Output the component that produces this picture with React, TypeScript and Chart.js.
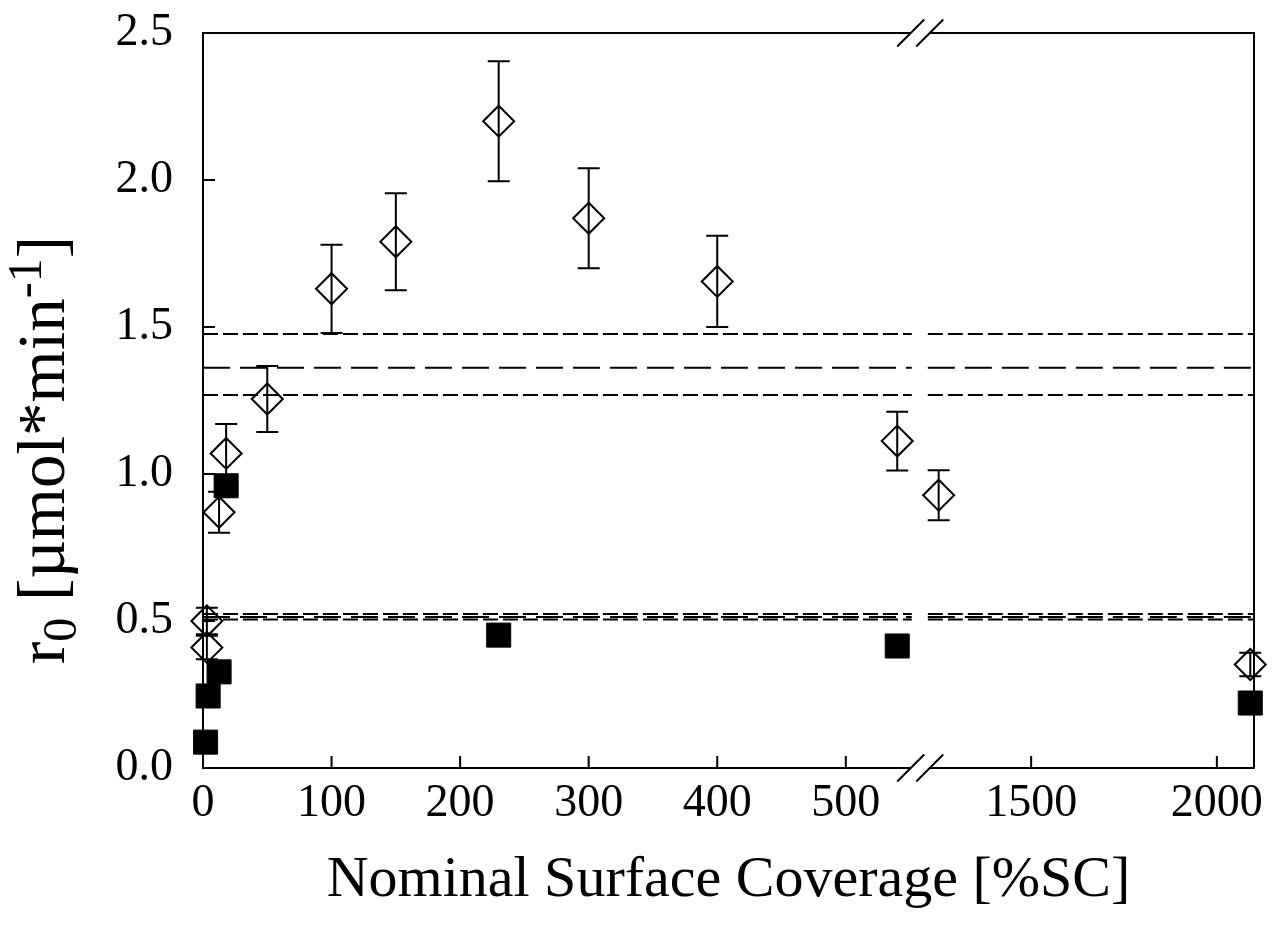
import React, { useEffect, useRef } from "react";
import { Chart, registerables } from "chart.js";

Chart.register(...registerables);

const FONT = "'Liberation Serif', 'Times New Roman', serif";

// ---- data ----
const diamondX = [3, 3, 12.5, 18, 50, 100, 150, 230, 300, 400, 540, 1251, 2090];
const diamondY = [0.5, 0.41, 0.87, 1.07, 1.255, 1.63, 1.79, 2.2, 1.87, 1.655, 1.112, 0.928, 0.352];
const diamondErr = [0.045, 0.04, 0.07, 0.1, 0.112, 0.15, 0.165, 0.204, 0.17, 0.155, 0.1, 0.085, 0.04];

const squareX = [2, 4, 12.5, 18, 230, 540, 2090];
const squareY = [0.088, 0.245, 0.327, 0.96, 0.452, 0.415, 0.221];

const refValues = [1.476, 1.361, 1.269, 0.524, 0.514, 0.505];
const refStyles = ["short", "long", "short", "short", "long", "short"];

const xTickValues = [0, 100, 200, 300, 400, 500, 1500, 2000];
const yTickValues = [0, 0.5, 1.0, 1.5, 2.0, 2.5];

const xTitle = "Nominal Surface Coverage [%SC]";

// ---- broken axis mapping ----
const LEFT_END = 557.5;
const RIGHT_START = 1200;
const RIGHT_END = 2100;
const RIGHT_K = 0.2889;
const toU = (v: number) => (v <= LEFT_END ? v : LEFT_END + (v - RIGHT_START) * RIGHT_K);
const U_MAX = toU(RIGHT_END);
const GAP_U0 = 551.3;
const GAP_U1 = 563.8;
const BREAK_A = 550.5;
const BREAK_B = 565.3;

const framePlugin = {
  id: "frame",
  beforeDatasetsDraw(chart: any) {
    const ctx = chart.ctx;
    const xs = chart.scales.x;
    const ys = chart.scales.y;
    ctx.save();
    ctx.strokeStyle = "#000";
    ctx.lineWidth = 2;
    const cap = 11;
    diamondX.forEach((v, i) => {
      const x = xs.getPixelForValue(toU(v));
      const yt = ys.getPixelForValue(diamondY[i] + diamondErr[i]);
      const yb = ys.getPixelForValue(diamondY[i] - diamondErr[i]);
      ctx.beginPath();
      ctx.moveTo(x, yt);
      ctx.lineTo(x, yb);
      ctx.moveTo(x - cap, yt);
      ctx.lineTo(x + cap, yt);
      ctx.moveTo(x - cap, yb);
      ctx.lineTo(x + cap, yb);
      ctx.stroke();
    });
    ctx.restore();
  },
  afterDraw(chart: any) {
    const ctx = chart.ctx;
    const { left, right, top, bottom } = chart.chartArea;
    const xs = chart.scales.x;
    const ys = chart.scales.y;
    const xa = xs.getPixelForValue(BREAK_A);
    const xb = xs.getPixelForValue(BREAK_B);
    ctx.save();
    ctx.strokeStyle = "#000";
    ctx.lineWidth = 2;
    ctx.lineCap = "butt";
    ctx.beginPath();
    ctx.moveTo(left, top - 1);
    ctx.lineTo(left, bottom + 1);
    ctx.moveTo(right, top - 1);
    ctx.lineTo(right, bottom + 1);
    [top, bottom].forEach((y) => {
      ctx.moveTo(left, y);
      ctx.lineTo(xa, y);
      ctx.moveTo(xb, y);
      ctx.lineTo(right, y);
    });
    ctx.stroke();
    // break slashes
    ctx.beginPath();
    [top, bottom].forEach((y) => {
      [xa, xb].forEach((x) => {
        ctx.moveTo(x - 13.5, y + 13.5);
        ctx.lineTo(x + 13.5, y - 13.5);
      });
    });
    ctx.stroke();
    // inward ticks
    ctx.beginPath();
    xTickValues.forEach((v) => {
      const x = xs.getPixelForValue(toU(v));
      ctx.moveTo(x, bottom);
      ctx.lineTo(x, bottom - 12);
    });
    yTickValues.forEach((v) => {
      const y = ys.getPixelForValue(v);
      ctx.moveTo(left, y);
      ctx.lineTo(left + 12, y);
    });
    ctx.stroke();

    // y-axis title with sub/superscripts
    const size = 67;
    const small = Math.round(size * 0.72);
    const runs: { t: string; s: number; dy: number }[] = [
      { t: "r", s: size, dy: 0 },
      { t: "0", s: small, dy: 12 },
      { t: " [\u00B5mol*min", s: size, dy: 0 },
      { t: "-1", s: small, dy: -23 },
      { t: "]", s: size, dy: 0 },
    ];
    let total = 0;
    runs.forEach((r) => {
      ctx.font = `${r.s}px ${FONT}`;
      total += ctx.measureText(r.t).width;
    });
    const cy = 450;
    ctx.translate(64, cy);
    ctx.rotate(-Math.PI / 2);
    ctx.fillStyle = "#000";
    ctx.textBaseline = "alphabetic";
    ctx.textAlign = "left";
    let px = -total / 2;
    runs.forEach((r) => {
      ctx.font = `${r.s}px ${FONT}`;
      ctx.fillText(r.t, px, r.dy);
      px += ctx.measureText(r.t).width;
    });
    ctx.restore();
  },
};

export default function App() {
  const ref = useRef<HTMLCanvasElement | null>(null);

  useEffect(() => {
    if (!ref.current) return;
    const lineData = (y: number) => [
      { x: 0, y },
      { x: GAP_U0, y },
      { x: (GAP_U0 + GAP_U1) / 2, y: null },
      { x: GAP_U1, y },
      { x: U_MAX, y },
    ];
    const chart = new Chart(ref.current, {
      type: "scatter",
      data: {
        datasets: [
          {
            label: "filled",
            data: squareX.map((v, i) => ({ x: toU(v), y: squareY[i] })),
            pointStyle: "rect",
            pointRadius: 17,
            backgroundColor: "#000",
            borderColor: "#000",
            borderWidth: 1,
            clip: false,
          },
          {
            label: "open",
            data: diamondX.map((v, i) => ({ x: toU(v), y: diamondY[i] })),
            pointStyle: "rectRot",
            pointRadius: 15.5,
            backgroundColor: "rgba(0,0,0,0)",
            borderColor: "#000",
            borderWidth: 2,
            clip: false,
          },
          ...refValues.map((y, i) => ({
            type: "line" as const,
            label: "ref" + i,
            data: lineData(y) as any,
            borderColor: "#000",
            borderWidth: 2,
            borderDash: refStyles[i] === "long" ? [27, 10] : [15, 5],
            pointRadius: 0,
            showLine: true,
            spanGaps: false,
            fill: false,
          })),
        ] as any,
      },
      options: {
        animation: false,
        responsive: false,
        events: [],
        layout: { padding: { top: 33, right: 25, left: 0, bottom: 0 } },
        plugins: { legend: { display: false }, tooltip: { enabled: false } },
        scales: {
          x: {
            type: "linear",
            min: 0,
            max: U_MAX,
            afterBuildTicks: (scale: any) => {
              scale.ticks = xTickValues.map((v) => ({ value: toU(v) }));
            },
            afterFit: (scale: any) => {
              scale.height = 172;
              scale.paddingLeft = 0;
              scale.paddingRight = 0;
            },
            ticks: {
              callback: (_v: any, i: number) => String(xTickValues[i]),
              font: { family: FONT, size: 46 },
              color: "#000",
              padding: 8,
              maxRotation: 0,
              autoSkip: false,
            },
            grid: { display: false, drawTicks: false },
            border: { display: false },
            title: {
              display: true,
              text: xTitle,
              font: { family: FONT, size: 58 },
              color: "#000",
              padding: { top: 0, bottom: 24 },
            },
          },
          y: {
            type: "linear",
            min: 0,
            max: 2.5,
            afterBuildTicks: (scale: any) => {
              scale.ticks = yTickValues.map((v) => ({ value: v }));
            },
            afterFit: (scale: any) => {
              scale.width = 203;
              scale.paddingTop = 0;
              scale.paddingBottom = 0;
            },
            ticks: {
              callback: (v: any) => Number(v).toFixed(1),
              font: { family: FONT, size: 46 },
              color: "#000",
              padding: 30,
            },
            grid: { display: false, drawTicks: false },
            border: { display: false },
          },
        },
      },
      plugins: [framePlugin],
    } as any);
    return () => chart.destroy();
  }, []);

  return (
    <div style={{ position: "absolute", left: 0, top: 0, width: 1279, height: 940, background: "#fff" }}>
      <canvas ref={ref} width={1279} height={940} style={{ display: "block" }} />
    </div>
  );
}
